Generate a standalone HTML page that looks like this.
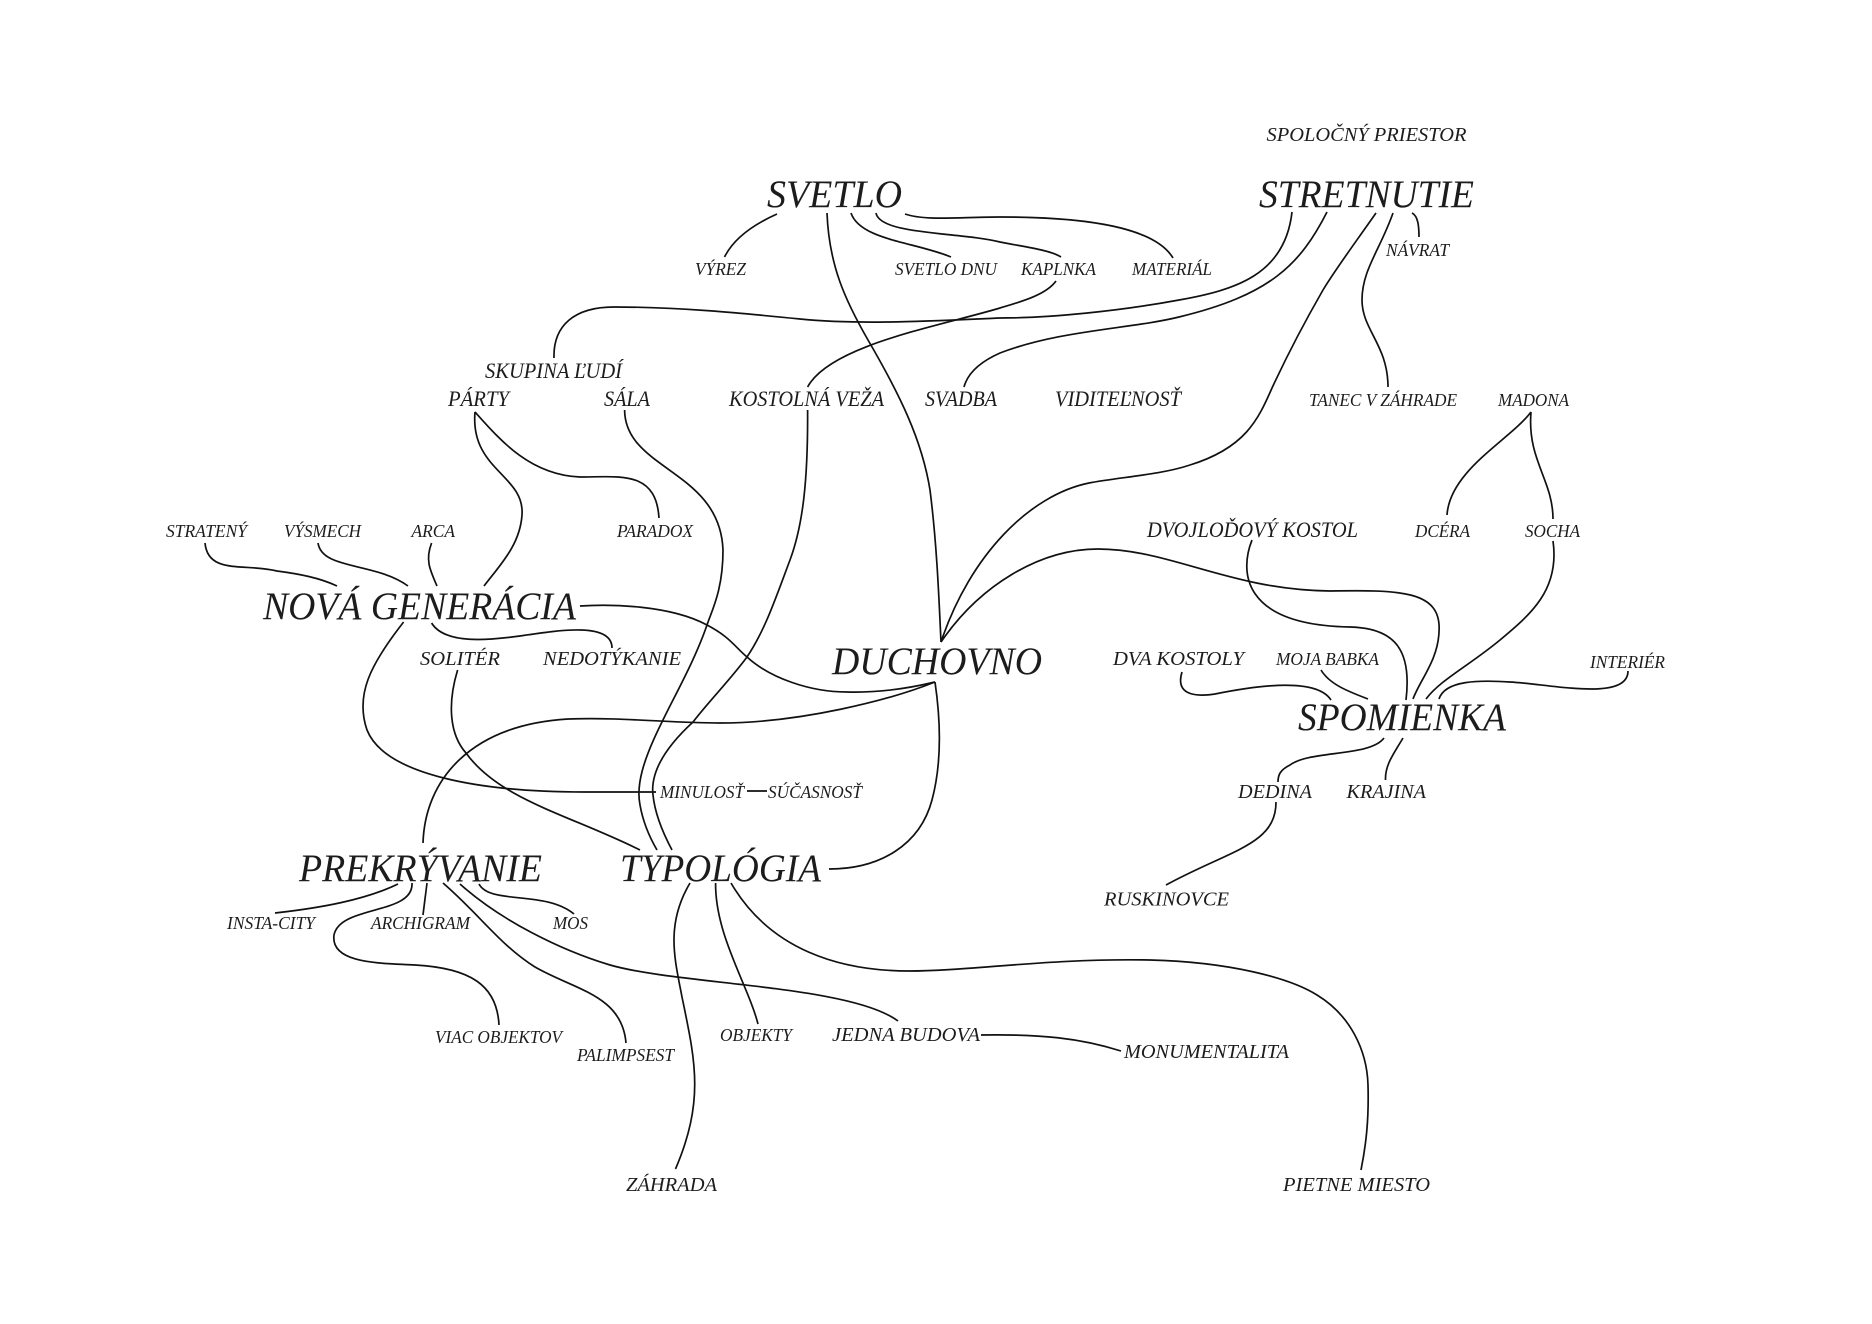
<!DOCTYPE html>
<html lang="sk"><head><meta charset="utf-8"><title>Diagram</title>
<style>
html,body{margin:0;padding:0;background:#fff;width:1872px;height:1324px;overflow:hidden}
svg{display:block}
text{font-family:"Liberation Serif",serif;font-style:italic;fill:#1c1c1c}
.l{font-size:39px}.m{font-size:22px}.n{font-size:20px}.s{font-size:18px}
path{fill:none;stroke:#111;stroke-width:1.7;stroke-linecap:butt}
</style></head><body>
<svg width="1872" height="1324" viewBox="0 0 1872 1324" xmlns="http://www.w3.org/2000/svg">
<rect width="1872" height="1324" fill="#fff"/>
<!-- SVETLO -->
<path d="M777 214 C750 226 733 240 724.5 257"/>
<path d="M827 213 C829 265 845 300 868 340 C900 395 922 440 930 490 C937 545 939 600 941 642"/>
<path d="M851 213 C860 240 915 242 951 257"/>
<path d="M876 213 C880 235 960 232 1000 242 C1025 247 1050 250 1061 257"/>
<path d="M905 214 C925 221 960 217 1000 217 C1090 217 1155 228 1173 258"/>
<!-- STRETNUTIE -->
<path d="M1292 212 C1285 275 1235 290 1179 300 C1120 311 1050 318 1000 318 C930 321 860 325 800 319 C740 313 680 307 614 307 C575 307 553 325 554 358"/>
<path d="M1056 281 C1046 295 1020 302 1000 308 C940 326 830 345 807.6 387"/>
<path d="M1327 212 C1300 265 1270 295 1179 317 C1130 329 1060 330 1000 353 C982 361 968 372 964 387"/>
<path d="M1376 213 C1350 250 1335 270 1323 290 C1300 330 1285 360 1272 388 C1258 420 1245 448 1190 465 C1160 475 1120 477 1089 483 C1030 495 970 555 941 642"/>
<path d="M1393 213 C1380 250 1362 270 1362 300 C1362 330 1388 345 1388 387"/>
<path d="M1412 213 C1418 216 1419 226 1419 237"/>
<!-- MADONA -->
<path d="M1531 412 C1510 440 1450 470 1447 515"/>
<path d="M1531 412 C1527 460 1553 480 1553 519"/>
<!-- PARTY -->
<path d="M475 412 C500 440 530 475 580 477 C620 477 656 470 659 518"/>
<path d="M475 412 C470 470 525 475 522 515 C520 545 500 565 484 586"/>
<!-- SALA / VEZA to TYPOLOGIA -->
<path d="M624.6 410 C625 470 720 470 723 550 C723 590 712 610 707 625 C695 660 675 695 662 722 C643 760 636 785 640 805 C643 822 650 838 657 850"/>
<path d="M807.6 410 C808 480 803 525 790 560 C775 600 765 630 747 657 C730 680 710 700 693 722 C668 745 650 770 653 795 C655 815 664 835 672 850"/>
<!-- DUCHOVNO -->
<path d="M580 606 C610 604 670 605 707 625 C730 637 735 647 747 657 C770 678 810 692 847 692 C880 693 910 688 935 682"/>
<path d="M935 682 C890 700 800 723 720 723 C670 723 620 717 568 719 C470 725 425 780 423 843"/>
<path d="M935 682 C942 730 940 770 932 800 C920 845 880 869 829 869"/>
<!-- NOVA GENERACIA -->
<path d="M205 543 C208 575 245 563 277 571 C300 574 320 578 337 586"/>
<path d="M318 543 C322 570 375 562 408 586"/>
<path d="M431.6 543 C425 560 430 570 437 586"/>
<path d="M431.6 623 C445 645 490 640 520 636 C560 630 612 622 612 648"/>
<path d="M403.6 622 C370 665 355 695 367 730 C385 775 480 792 584 792 L656 792"/>
<path d="M747 791 L767 791"/>
<path d="M457.6 670 C447 705 450 735 466 753 C500 800 570 815 640 850"/>
<!-- PREKRYVANIE -->
<path d="M398 884 C365 900 320 908 275 913"/>
<path d="M412 883 C414 915 340 905 334 935 C330 965 385 963 415 965 C470 968 497 985 499 1025"/>
<path d="M427 883 L423 915"/>
<path d="M443 883 C480 915 500 945 535 967 C575 990 622 995 626 1043"/>
<path d="M460 884 C500 920 560 950 610 965 C680 985 850 985 898 1021"/>
<path d="M479 884 C490 905 545 890 574 914"/>
<!-- TYPOLOGIA -->
<path d="M690 883 C665 925 675 960 682 997 C695 1060 705 1100 675.5 1169"/>
<path d="M715.6 883 C715 935 748 985 758 1024"/>
<path d="M731 883 C770 950 840 971 909 971 C970 971 1050 958 1150 960 C1230 962 1290 978 1317 995 C1350 1015 1367 1050 1368 1085 C1369 1120 1366 1145 1361 1170"/>
<path d="M981 1035 C1040 1034 1080 1038 1121 1051"/>
<!-- SPOMIENKA -->
<path d="M1276 802 C1276 845 1230 850 1166 885"/>
<path d="M1384 738 C1370 757 1310 750 1290 765 C1280 770 1278 775 1278 782"/>
<path d="M1403 738 C1393 755 1385 765 1385.5 780"/>
<path d="M1182 672 C1175 695 1195 697 1215 694 C1245 688 1315 675 1331 700"/>
<path d="M1321 670 C1330 685 1350 692 1368 699"/>
<path d="M1439 699 C1445 680 1480 680 1510 682 C1550 684 1628 702 1628 671"/>
<path d="M1252 540 C1240 570 1240 625 1350 627 C1395 628 1412 650 1406 700"/>
<path d="M941 642 C980 585 1040 549 1098 549 C1170 549 1230 590 1330 591 C1400 590 1442 590 1439 632 C1438 660 1420 680 1413 699"/>
<path d="M1553 541 C1560 590 1530 615 1500 640 C1470 665 1440 680 1426 699"/>

<!-- large labels -->
<text class="l" x="767" y="207" textLength="135" lengthAdjust="spacingAndGlyphs">SVETLO</text>
<text class="l" x="1259" y="207" textLength="215" lengthAdjust="spacingAndGlyphs">STRETNUTIE</text>
<text class="l" x="263" y="619" textLength="313" lengthAdjust="spacingAndGlyphs">NOVÁ GENERÁCIA</text>
<text class="l" x="832" y="674" textLength="210" lengthAdjust="spacingAndGlyphs">DUCHOVNO</text>
<text class="l" x="1298" y="730" textLength="208" lengthAdjust="spacingAndGlyphs">SPOMIENKA</text>
<text class="l" x="299" y="881" textLength="243" lengthAdjust="spacingAndGlyphs">PREKRÝVANIE</text>
<text class="l" x="620" y="881" textLength="201" lengthAdjust="spacingAndGlyphs">TYPOLÓGIA</text>
<!-- small labels -->
<text class="n" x="1266.5" y="141" textLength="200" lengthAdjust="spacingAndGlyphs">SPOLOČNÝ PRIESTOR</text>
<text class="s" x="695" y="275" textLength="51" lengthAdjust="spacingAndGlyphs">VÝREZ</text>
<text class="s" x="895" y="275" textLength="102" lengthAdjust="spacingAndGlyphs">SVETLO DNU</text>
<text class="s" x="1021" y="275" textLength="75" lengthAdjust="spacingAndGlyphs">KAPLNKA</text>
<text class="s" x="1132" y="275" textLength="80" lengthAdjust="spacingAndGlyphs">MATERIÁL</text>
<text class="s" x="1386" y="256" textLength="63" lengthAdjust="spacingAndGlyphs">NÁVRAT</text>
<text class="m" x="485" y="378" textLength="137" lengthAdjust="spacingAndGlyphs">SKUPINA ĽUDÍ</text>
<text class="m" x="448" y="406" textLength="61" lengthAdjust="spacingAndGlyphs">PÁRTY</text>
<text class="m" x="604" y="406" textLength="46" lengthAdjust="spacingAndGlyphs">SÁLA</text>
<text class="m" x="729" y="406" textLength="155" lengthAdjust="spacingAndGlyphs">KOSTOLNÁ VEŽA</text>
<text class="m" x="925" y="406" textLength="72" lengthAdjust="spacingAndGlyphs">SVADBA</text>
<text class="m" x="1055" y="406" textLength="126" lengthAdjust="spacingAndGlyphs">VIDITEĽNOSŤ</text>
<text class="s" x="1309" y="406" textLength="148" lengthAdjust="spacingAndGlyphs">TANEC V ZÁHRADE</text>
<text class="s" x="1498" y="406" textLength="71" lengthAdjust="spacingAndGlyphs">MADONA</text>
<text class="s" x="166" y="537" textLength="81" lengthAdjust="spacingAndGlyphs">STRATENÝ</text>
<text class="s" x="284" y="537" textLength="77" lengthAdjust="spacingAndGlyphs">VÝSMECH</text>
<text class="s" x="411.5" y="537" textLength="43.5" lengthAdjust="spacingAndGlyphs">ARCA</text>
<text class="s" x="617" y="537" textLength="76" lengthAdjust="spacingAndGlyphs">PARADOX</text>
<text class="m" x="1147" y="537" textLength="211" lengthAdjust="spacingAndGlyphs">DVOJLOĎOVÝ KOSTOL</text>
<text class="s" x="1415" y="537" textLength="55" lengthAdjust="spacingAndGlyphs">DCÉRA</text>
<text class="s" x="1525" y="537" textLength="55" lengthAdjust="spacingAndGlyphs">SOCHA</text>
<text class="n" x="420" y="665" textLength="80" lengthAdjust="spacingAndGlyphs">SOLITÉR</text>
<text class="n" x="543" y="665" textLength="138" lengthAdjust="spacingAndGlyphs">NEDOTÝKANIE</text>
<text class="n" x="1113" y="665" textLength="131" lengthAdjust="spacingAndGlyphs">DVA KOSTOLY</text>
<text class="s" x="1276" y="665" textLength="103" lengthAdjust="spacingAndGlyphs">MOJA BABKA</text>
<text class="s" x="1590" y="668" textLength="75" lengthAdjust="spacingAndGlyphs">INTERIÉR</text>
<text class="s" x="660" y="798" textLength="84" lengthAdjust="spacingAndGlyphs">MINULOSŤ</text>
<text class="s" x="768" y="798" textLength="94" lengthAdjust="spacingAndGlyphs">SÚČASNOSŤ</text>
<text class="n" x="1238" y="798" textLength="74" lengthAdjust="spacingAndGlyphs">DEDINA</text>
<text class="n" x="1346.5" y="798" textLength="79.5" lengthAdjust="spacingAndGlyphs">KRAJINA</text>
<text class="n" x="1104" y="905.5" textLength="125" lengthAdjust="spacingAndGlyphs">RUSKINOVCE</text>
<text class="s" x="227" y="929" textLength="88" lengthAdjust="spacingAndGlyphs">INSTA-CITY</text>
<text class="s" x="371" y="929" textLength="99" lengthAdjust="spacingAndGlyphs">ARCHIGRAM</text>
<text class="s" x="553" y="929" textLength="35" lengthAdjust="spacingAndGlyphs">MOS</text>
<text class="s" x="435" y="1043" textLength="127" lengthAdjust="spacingAndGlyphs">VIAC OBJEKTOV</text>
<text class="s" x="577" y="1061" textLength="97" lengthAdjust="spacingAndGlyphs">PALIMPSEST</text>
<text class="s" x="720" y="1041" textLength="72" lengthAdjust="spacingAndGlyphs">OBJEKTY</text>
<text class="n" x="832" y="1041" textLength="148" lengthAdjust="spacingAndGlyphs">JEDNA BUDOVA</text>
<text class="n" x="1124" y="1058" textLength="165" lengthAdjust="spacingAndGlyphs">MONUMENTALITA</text>
<text class="n" x="626" y="1191" textLength="91" lengthAdjust="spacingAndGlyphs">ZÁHRADA</text>
<text class="n" x="1283" y="1191" textLength="147" lengthAdjust="spacingAndGlyphs">PIETNE MIESTO</text>
</svg>
</body></html>
